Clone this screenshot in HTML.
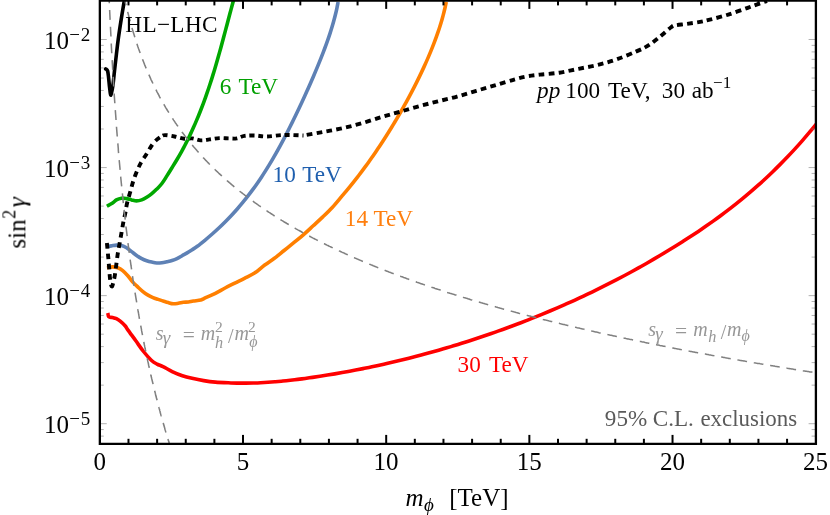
<!DOCTYPE html>
<html><head><meta charset="utf-8"><title>plot</title>
<style>
html,body{margin:0;padding:0;background:#fff;}
body{width:830px;height:515px;overflow:hidden;font-family:"Liberation Serif",serif;}
svg{display:block;position:absolute;left:0;top:0;}
svg text{font-family:"Liberation Serif",serif;}
.t{opacity:0.999;}
</style></head><body>
<svg width="830" height="515" viewBox="0 0 830 515">
<rect x="0" y="0" width="830" height="515" fill="#ffffff"/>
<defs><clipPath id="c"><rect x="99.75" y="0" width="715.85" height="443.70"/></clipPath></defs>

<g clip-path="url(#c)" fill="none" stroke-linejoin="round">
<path d="M107.80,313.00 C107.97,313.63 108.00,316.05 108.80,316.80 C109.60,317.55 111.33,317.18 112.60,317.50 C113.87,317.82 115.13,318.08 116.40,318.70 C117.67,319.32 118.72,319.98 120.20,321.20 C121.68,322.42 124.00,324.52 125.30,326.00 C126.60,327.48 126.25,327.63 128.00,330.10 C129.75,332.57 133.22,337.23 135.80,340.80 C138.38,344.37 140.92,348.27 143.50,351.50 C146.08,354.73 149.03,358.10 151.30,360.20 C153.57,362.30 155.15,363.03 157.10,364.10 C159.05,365.17 160.40,365.32 163.00,366.60 C165.60,367.88 169.47,370.28 172.70,371.80 C175.93,373.32 179.17,374.62 182.40,375.70 C185.63,376.78 188.55,377.48 192.10,378.30 C195.65,379.12 199.82,379.97 203.70,380.60 C207.58,381.23 210.87,381.71 215.40,382.10 C219.93,382.49 227.08,382.76 230.90,382.94 C234.72,383.11 235.85,383.10 238.32,383.14 C240.79,383.18 243.26,383.18 245.74,383.16 C248.21,383.15 250.68,383.10 253.16,383.03 C255.63,382.95 258.10,382.86 260.58,382.73 C263.05,382.61 265.52,382.47 267.99,382.30 C270.47,382.13 272.94,381.94 275.41,381.74 C277.89,381.53 280.36,381.30 282.83,381.05 C285.31,380.81 287.78,380.54 290.25,380.26 C292.72,379.98 295.20,379.69 297.67,379.38 C300.14,379.07 302.62,378.74 305.09,378.41 C307.56,378.07 310.04,377.72 312.51,377.36 C314.98,377.00 317.45,376.63 319.93,376.25 C322.40,375.88 324.87,375.49 327.35,375.09 C329.82,374.69 332.29,374.28 334.77,373.86 C337.24,373.44 339.71,373.01 342.18,372.57 C344.66,372.13 347.13,371.68 349.60,371.22 C352.08,370.76 354.55,370.29 357.02,369.81 C359.50,369.33 361.97,368.84 364.44,368.34 C366.91,367.84 369.39,367.33 371.86,366.81 C374.33,366.29 376.81,365.76 379.28,365.21 C381.75,364.67 384.23,364.12 386.70,363.56 C389.17,363.00 391.64,362.42 394.12,361.84 C396.59,361.26 399.06,360.66 401.54,360.06 C404.01,359.46 406.48,358.84 408.96,358.22 C411.43,357.59 413.90,356.96 416.37,356.31 C418.85,355.66 421.32,355.01 423.79,354.34 C426.27,353.68 428.74,353.00 431.21,352.31 C433.69,351.62 436.16,350.92 438.63,350.22 C441.10,349.51 443.58,348.79 446.05,348.06 C448.52,347.33 451.00,346.59 453.47,345.84 C455.94,345.09 458.42,344.32 460.89,343.55 C463.36,342.78 465.83,342.00 468.31,341.20 C470.78,340.41 473.25,339.61 475.73,338.79 C478.20,337.97 480.67,337.15 483.15,336.31 C485.62,335.48 488.09,334.63 490.56,333.77 C493.04,332.91 495.51,332.04 497.98,331.16 C500.46,330.28 502.93,329.39 505.40,328.49 C507.88,327.59 510.35,326.68 512.82,325.76 C515.29,324.83 517.77,323.90 520.24,322.95 C522.71,322.00 525.19,321.05 527.66,320.08 C530.13,319.11 532.61,318.12 535.08,317.13 C537.55,316.14 540.02,315.13 542.50,314.11 C544.97,313.09 547.44,312.06 549.92,311.02 C552.39,309.98 554.86,308.92 557.34,307.85 C559.81,306.79 562.28,305.71 564.75,304.61 C567.23,303.52 569.70,302.41 572.17,301.29 C574.65,300.17 577.12,299.04 579.59,297.89 C582.07,296.74 584.54,295.58 587.01,294.41 C589.48,293.23 591.96,292.04 594.43,290.84 C596.90,289.64 599.38,288.42 601.85,287.19 C604.32,285.96 606.80,284.72 609.27,283.46 C611.74,282.20 614.21,280.93 616.69,279.64 C619.16,278.35 621.63,277.04 624.11,275.73 C626.58,274.41 629.05,273.07 631.53,271.73 C634.00,270.38 636.47,269.01 638.94,267.63 C641.42,266.25 643.89,264.86 646.36,263.45 C648.84,262.04 651.31,260.61 653.78,259.17 C656.26,257.73 658.73,256.27 661.20,254.79 C663.67,253.32 666.15,251.83 668.62,250.32 C671.09,248.81 673.57,247.29 676.04,245.75 C678.51,244.21 680.99,242.65 683.46,241.08 C685.93,239.50 688.40,237.91 690.88,236.29 C693.35,234.67 695.82,233.04 698.30,231.38 C700.77,229.71 703.24,228.03 705.72,226.32 C708.19,224.61 710.66,222.87 713.13,221.11 C715.61,219.34 718.08,217.55 720.55,215.72 C723.03,213.89 725.50,212.04 727.97,210.15 C730.45,208.26 732.92,206.33 735.39,204.37 C737.86,202.41 740.34,200.42 742.81,198.38 C745.28,196.34 747.76,194.27 750.23,192.16 C752.70,190.04 755.18,187.89 757.65,185.68 C760.12,183.48 762.59,181.24 765.07,178.95 C767.54,176.66 770.01,174.33 772.49,171.94 C774.96,169.55 777.43,167.12 779.91,164.64 C782.38,162.15 784.85,159.62 787.32,157.03 C789.80,154.44 792.27,151.79 794.74,149.09 C797.22,146.39 799.69,143.64 802.16,140.82 C804.64,138.01 807.11,135.14 809.58,132.20 C812.05,129.27 815.76,124.71 817.00,123.21" stroke="#ff0000" stroke-width="3.6"/>
<path d="M106.90,267.60 C107.85,267.48 110.80,266.87 112.60,266.90 C114.40,266.93 116.02,267.17 117.70,267.80 C119.38,268.43 121.02,269.37 122.70,270.70 C124.38,272.03 126.12,273.90 127.80,275.80 C129.48,277.70 131.12,280.22 132.80,282.10 C134.48,283.98 136.22,285.52 137.90,287.10 C139.58,288.68 141.22,290.27 142.90,291.60 C144.58,292.93 146.32,294.10 148.00,295.10 C149.68,296.10 151.32,296.88 153.00,297.60 C154.68,298.32 156.42,298.83 158.10,299.40 C159.78,299.97 161.42,300.47 163.10,301.00 C164.78,301.53 166.52,302.13 168.20,302.60 C169.88,303.07 171.52,303.68 173.20,303.80 C174.88,303.92 176.62,303.55 178.30,303.30 C179.98,303.05 181.62,302.52 183.30,302.30 C184.98,302.08 186.72,302.22 188.40,302.00 C190.08,301.78 191.33,301.33 193.40,301.00 C195.47,300.67 198.75,300.55 200.80,300.00 C202.85,299.45 203.27,298.80 205.70,297.70 C208.13,296.60 212.17,295.02 215.40,293.40 C218.63,291.78 221.87,289.72 225.10,288.00 C228.33,286.28 231.57,284.72 234.80,283.10 C238.03,281.48 241.13,280.02 244.50,278.30 C247.87,276.58 251.63,275.02 255.00,272.80 C258.37,270.58 261.47,267.42 264.70,265.00 C267.93,262.58 271.17,260.72 274.40,258.30 C277.63,255.88 280.87,253.10 284.10,250.50 C287.33,247.90 290.55,245.35 293.80,242.70 C297.05,240.05 300.37,237.42 303.60,234.60 C306.83,231.78 310.00,228.75 313.20,225.80 C316.40,222.85 319.58,220.00 322.80,216.90 C326.02,213.80 329.38,210.58 332.50,207.20 C335.62,203.82 339.32,199.20 341.53,196.60 C343.75,194.00 344.39,193.27 345.78,191.61 C347.18,189.95 348.55,188.28 349.91,186.62 C351.27,184.96 352.60,183.29 353.92,181.63 C355.24,179.97 356.54,178.30 357.83,176.64 C359.11,174.98 360.38,173.31 361.63,171.65 C362.88,169.99 364.11,168.32 365.33,166.66 C366.54,165.00 367.75,163.34 368.93,161.67 C370.12,160.01 371.29,158.35 372.45,156.68 C373.61,155.02 374.76,153.36 375.89,151.69 C377.02,150.03 378.14,148.37 379.25,146.70 C380.36,145.04 381.45,143.38 382.53,141.71 C383.61,140.05 384.68,138.39 385.74,136.72 C386.80,135.06 387.85,133.40 388.88,131.73 C389.92,130.07 390.94,128.41 391.96,126.74 C392.97,125.08 393.97,123.42 394.97,121.75 C395.96,120.09 396.94,118.43 397.91,116.76 C398.89,115.10 399.85,113.44 400.80,111.77 C401.75,110.11 402.69,108.45 403.62,106.78 C404.55,105.12 405.48,103.46 406.39,101.79 C407.30,100.13 408.20,98.47 409.09,96.81 C409.98,95.14 410.86,93.48 411.73,91.82 C412.61,90.15 413.47,88.49 414.32,86.83 C415.17,85.16 416.01,83.50 416.84,81.84 C417.67,80.17 418.49,78.51 419.29,76.85 C420.10,75.18 420.90,73.52 421.68,71.86 C422.47,70.19 423.24,68.53 424.01,66.87 C424.77,65.20 425.52,63.54 426.26,61.88 C427.00,60.21 427.72,58.55 428.44,56.89 C429.15,55.22 429.85,53.56 430.54,51.90 C431.22,50.23 431.90,48.57 432.56,46.91 C433.22,45.24 433.86,43.58 434.49,41.92 C435.12,40.25 435.74,38.59 436.33,36.93 C436.93,35.26 437.52,33.60 438.08,31.94 C438.65,30.28 439.20,28.61 439.73,26.95 C440.26,25.29 440.78,23.62 441.27,21.96 C441.76,20.30 442.24,18.63 442.70,16.97 C443.15,15.31 443.59,13.64 444.01,11.98 C444.42,10.32 444.81,8.65 445.19,6.99 C445.56,5.33 446.06,2.83 446.23,2.00" stroke="#ff7f00" stroke-width="3.6"/>
<path d="M106.90,246.60 C107.65,246.48 109.82,246.15 111.40,245.90 C112.98,245.65 114.72,245.15 116.40,245.10 C118.08,245.05 119.82,245.15 121.50,245.60 C123.18,246.05 124.82,246.80 126.50,247.80 C128.18,248.80 129.92,250.33 131.60,251.60 C133.28,252.87 134.92,254.23 136.60,255.40 C138.28,256.57 140.02,257.72 141.70,258.60 C143.38,259.48 145.02,260.12 146.70,260.70 C148.38,261.28 150.12,261.72 151.80,262.10 C153.48,262.48 155.12,262.90 156.80,263.00 C158.48,263.10 160.22,262.92 161.90,262.70 C163.58,262.48 165.22,262.07 166.90,261.70 C168.58,261.33 170.32,261.02 172.00,260.50 C173.68,259.98 175.32,259.40 177.00,258.60 C178.68,257.80 180.42,256.65 182.10,255.70 C183.78,254.75 185.42,253.90 187.10,252.90 C188.78,251.90 190.50,250.80 192.20,249.70 C193.90,248.60 195.15,247.91 197.31,246.30 C199.47,244.69 202.63,242.12 205.17,240.04 C207.70,237.95 210.14,235.86 212.51,233.77 C214.88,231.68 217.16,229.60 219.38,227.51 C221.59,225.42 223.73,223.33 225.80,221.24 C227.87,219.16 229.88,217.07 231.82,214.98 C233.77,212.89 235.64,210.80 237.47,208.72 C239.30,206.63 241.07,204.54 242.79,202.45 C244.51,200.36 246.17,198.28 247.79,196.19 C249.42,194.10 250.99,192.01 252.53,189.92 C254.06,187.84 255.55,185.75 257.01,183.66 C258.47,181.57 259.88,179.48 261.27,177.39 C262.65,175.31 264.00,173.22 265.33,171.13 C266.65,169.04 267.94,166.95 269.21,164.87 C270.48,162.78 271.72,160.69 272.94,158.60 C274.15,156.51 275.35,154.43 276.52,152.34 C277.70,150.25 278.85,148.16 279.99,146.07 C281.13,143.99 282.24,141.90 283.35,139.81 C284.45,137.72 285.54,135.63 286.61,133.55 C287.69,131.46 288.74,129.37 289.79,127.28 C290.84,125.19 291.88,123.11 292.90,121.02 C293.93,118.93 294.94,116.84 295.95,114.75 C296.95,112.67 297.95,110.58 298.94,108.49 C299.92,106.40 300.90,104.31 301.87,102.23 C302.84,100.14 303.80,98.05 304.75,95.96 C305.70,93.87 306.65,91.79 307.58,89.70 C308.52,87.61 309.44,85.52 310.36,83.43 C311.28,81.35 312.19,79.26 313.08,77.17 C313.98,75.08 314.87,72.99 315.75,70.91 C316.63,68.82 317.50,66.73 318.35,64.64 C319.20,62.55 320.05,60.46 320.88,58.38 C321.71,56.29 322.52,54.20 323.32,52.11 C324.12,50.02 324.90,47.94 325.67,45.85 C326.43,43.76 327.18,41.67 327.91,39.58 C328.63,37.50 329.34,35.41 330.02,33.32 C330.71,31.23 331.37,29.14 332.00,27.06 C332.63,24.97 333.24,22.88 333.81,20.79 C334.39,18.70 334.94,16.62 335.45,14.53 C335.96,12.44 336.44,10.35 336.88,8.26 C337.32,6.18 337.89,3.04 338.09,2.00" stroke="#5e81b5" stroke-width="3.6"/>
<path d="M106.90,243.00 C107.12,245.28 107.83,252.63 108.20,256.70 C108.57,260.77 108.82,263.93 109.10,267.40 C109.38,270.87 109.58,274.65 109.90,277.50 C110.22,280.35 110.62,283.03 111.00,284.50 C111.38,285.97 111.77,286.88 112.20,286.30 C112.63,285.72 113.13,283.00 113.60,281.00 C114.07,279.00 114.32,278.78 115.00,274.30 C115.68,269.82 116.93,259.25 117.70,254.10 C118.47,248.95 118.97,246.97 119.60,243.40 C120.23,239.83 120.87,236.28 121.50,232.70 C122.13,229.12 122.77,225.17 123.40,221.90 C124.03,218.63 124.68,216.25 125.30,213.10 C125.92,209.95 126.27,206.57 127.10,203.00 C127.93,199.43 129.30,195.27 130.30,191.70 C131.30,188.13 132.05,184.87 133.10,181.60 C134.15,178.33 135.28,175.27 136.60,172.10 C137.92,168.93 139.32,165.65 141.00,162.60 C142.68,159.55 144.87,156.73 146.70,153.80 C148.53,150.87 150.27,147.40 152.00,145.00 C153.73,142.60 155.60,140.82 157.10,139.40 C158.60,137.98 160.35,136.98 161.00,136.50" stroke="#000" stroke-width="3.9" stroke-dasharray="5.7 4.7"/>
<path d="M161.00,136.50 C161.65,136.27 162.63,135.10 164.90,135.10 C167.17,135.10 171.37,135.88 174.60,136.50 C177.83,137.12 181.38,138.48 184.30,138.80 C187.22,139.12 189.35,138.13 192.10,138.40 C194.85,138.67 197.88,140.23 200.80,140.40 C203.72,140.57 206.52,139.78 209.60,139.40 C212.68,139.02 216.07,138.27 219.30,138.10 C222.53,137.93 226.10,138.35 229.00,138.40 C231.90,138.45 234.12,138.82 236.70,138.40 C239.28,137.98 241.45,136.38 244.50,135.90 C247.55,135.42 251.30,135.40 255.00,135.50 C258.70,135.60 261.85,136.58 266.70,136.50 C271.55,136.42 277.97,135.17 284.10,135.00 C290.23,134.83 300.27,135.42 303.50,135.50" stroke="#000" stroke-width="3.9" stroke-dasharray="5 3.8" stroke-dashoffset="-2"/>
<path d="M303.50,135.50 C306.75,134.92 316.52,133.22 323.00,132.00 C329.48,130.78 335.93,129.65 342.40,128.20 C348.87,126.75 355.22,125.18 361.80,123.30 C368.38,121.42 375.65,118.78 381.90,116.90 C388.15,115.02 393.18,113.77 399.30,112.00 C405.42,110.23 412.18,108.07 418.60,106.30 C425.02,104.53 431.38,103.02 437.80,101.40 C444.22,99.78 450.67,98.37 457.10,96.60 C463.53,94.83 469.97,92.72 476.40,90.80 C482.83,88.88 489.28,87.02 495.70,85.10 C502.12,83.18 509.77,80.75 514.90,79.30 C520.03,77.85 522.32,77.18 526.50,76.40 C530.68,75.62 534.53,75.22 540.00,74.60 C545.47,73.98 552.87,73.67 559.30,72.70 C565.73,71.73 572.18,70.10 578.60,68.80 C585.02,67.50 591.38,66.50 597.80,64.90 C604.22,63.30 610.67,61.45 617.10,59.20 C623.53,56.95 631.25,53.65 636.40,51.40 C641.55,49.15 644.15,48.10 648.00,45.70 C651.85,43.30 655.65,40.07 659.50,37.00 C663.35,33.93 668.52,29.23 671.10,27.30 C673.68,25.37 672.43,25.97 675.00,25.40 C677.57,24.83 682.33,24.48 686.50,23.90 C690.67,23.32 695.93,22.65 700.00,21.90 C704.07,21.15 706.18,20.62 710.90,19.40 C715.62,18.18 722.17,16.53 728.30,14.60 C734.43,12.67 742.20,9.75 747.70,7.80 C753.20,5.85 758.08,4.03 761.30,2.90 C764.52,1.77 766.05,1.32 767.00,1.00" stroke="#000" stroke-width="3.9" stroke-dasharray="5.7 4.3" stroke-dashoffset="6.7"/>
<path d="M106.90,206.20 C107.85,205.67 111.02,204.05 112.60,203.00 C114.18,201.95 114.92,200.70 116.40,199.90 C117.88,199.10 119.82,198.42 121.50,198.20 C123.18,197.98 124.82,198.32 126.50,198.60 C128.18,198.88 129.92,199.52 131.60,199.90 C133.28,200.28 134.92,200.90 136.60,200.90 C138.28,200.90 140.02,200.50 141.70,199.90 C143.38,199.30 145.02,198.35 146.70,197.30 C148.38,196.25 150.12,194.97 151.80,193.60 C153.48,192.23 155.12,190.78 156.80,189.10 C158.48,187.42 160.22,185.70 161.90,183.50 C163.58,181.30 165.22,178.53 166.90,175.90 C168.58,173.27 170.32,170.43 172.00,167.70 C173.68,164.97 175.38,162.23 177.00,159.50 C178.62,156.77 180.57,153.33 181.70,151.30 C182.84,149.27 183.12,148.66 183.82,147.34 C184.51,146.02 185.19,144.71 185.87,143.39 C186.54,142.07 187.20,140.75 187.85,139.43 C188.50,138.11 189.14,136.79 189.77,135.47 C190.40,134.16 191.02,132.84 191.63,131.52 C192.24,130.20 192.84,128.88 193.43,127.56 C194.02,126.24 194.61,124.92 195.18,123.61 C195.75,122.29 196.32,120.97 196.87,119.65 C197.43,118.33 197.98,117.01 198.52,115.69 C199.06,114.37 199.59,113.05 200.11,111.74 C200.63,110.42 201.15,109.10 201.66,107.78 C202.16,106.46 202.66,105.14 203.16,103.82 C203.65,102.50 204.13,101.19 204.61,99.87 C205.09,98.55 205.57,97.23 206.03,95.91 C206.50,94.59 206.96,93.27 207.41,91.95 C207.86,90.64 208.31,89.32 208.75,88.00 C209.19,86.68 209.63,85.36 210.06,84.04 C210.49,82.72 210.91,81.40 211.33,80.08 C211.75,78.77 212.17,77.45 212.58,76.13 C212.99,74.81 213.39,73.49 213.80,72.17 C214.20,70.85 214.59,69.53 214.99,68.22 C215.38,66.90 215.77,65.58 216.15,64.26 C216.54,62.94 216.92,61.62 217.30,60.30 C217.68,58.98 218.05,57.66 218.43,56.35 C218.80,55.03 219.17,53.71 219.53,52.39 C219.90,51.07 220.27,49.75 220.63,48.43 C220.99,47.11 221.35,45.80 221.71,44.48 C222.07,43.16 222.42,41.84 222.78,40.52 C223.13,39.20 223.49,37.88 223.84,36.56 C224.19,35.25 224.54,33.93 224.89,32.61 C225.24,31.29 225.59,29.97 225.94,28.65 C226.29,27.33 226.64,26.01 226.99,24.69 C227.34,23.38 227.68,22.06 228.03,20.74 C228.38,19.42 228.73,18.10 229.08,16.78 C229.43,15.46 229.78,14.14 230.13,12.83 C230.48,11.51 230.84,10.19 231.19,8.87 C231.54,7.55 231.90,6.23 232.26,4.91 C232.61,3.59 232.97,2.28 233.33,0.96 C233.69,-0.36 234.24,-2.34 234.42,-3.00" stroke="#00a800" stroke-width="3.6"/>
<path d="M105.70,68.90 C106.02,69.23 107.12,69.43 107.60,70.90 C108.08,72.37 108.27,74.95 108.60,77.70 C108.93,80.45 109.22,84.50 109.60,87.40 C109.98,90.30 110.35,95.43 110.90,95.10 C111.45,94.77 112.32,89.28 112.90,85.40 C113.48,81.52 113.82,76.97 114.40,71.80 C114.98,66.63 115.75,59.90 116.40,54.40 C117.05,48.90 117.50,44.63 118.30,38.80 C119.10,32.97 120.23,25.55 121.20,19.40 C122.17,13.25 123.62,4.82 124.10,1.90" stroke="#000" stroke-width="3.6" stroke-linecap="round"/>
<path d="M123.9,-4.3 L124.8,-0.3 L125.6,3.5 L126.5,7.2 L127.4,10.7 L128.3,14.2 L129.1,17.5 L130.0,20.8 L130.9,24.0 L131.7,27.0 L132.6,30.0 L133.5,32.9 L134.4,35.8 L135.2,38.5 L136.1,41.2 L137.0,43.9 L137.8,46.4 L138.7,49.0 L139.6,51.4 L140.5,53.8 L141.3,56.2 L142.2,58.5 L143.1,60.8 L144.0,63.0 L144.8,65.1 L145.7,67.3 L146.6,69.4 L147.4,71.4 L148.3,73.4 L149.2,75.4 L150.1,77.4 L150.9,79.3 L151.8,81.2 L152.7,83.0 L153.5,84.8 L154.4,86.6 L155.3,88.4 L156.2,90.1 L157.0,91.8 L157.9,93.5 L158.8,95.1 L159.6,96.8 L160.5,98.4 L161.4,100.0 L162.3,101.5 L163.1,103.1 L164.0,104.6 L164.9,106.1 L165.7,107.6 L166.6,109.0 L167.5,110.5 L168.4,111.9 L169.2,113.3 L170.1,114.7 L171.0,116.0 L171.8,117.4 L172.7,118.7 L173.6,120.1 L174.5,121.4 L175.3,122.7 L176.2,123.9 L177.1,125.2 L178.0,126.4 L178.8,127.7 L179.7,128.9 L180.6,130.1 L181.4,131.3 L182.3,132.5 L183.2,133.6 L184.1,134.8 L184.9,135.9 L185.8,137.1 L186.7,138.2 L187.5,139.3 L188.4,140.4 L189.3,141.5 L190.2,142.6 L191.0,143.6 L191.9,144.7 L192.8,145.7 L193.6,146.8 L194.5,147.8 L195.4,148.8 L196.3,149.8 L197.1,150.8 L198.0,151.8 L198.9,152.8 L199.7,153.8 L200.6,154.8 L201.5,155.7 L202.4,156.7 L203.2,157.6 L204.1,158.5 L205.0,159.5 L205.8,160.4 L206.7,161.3 L207.6,162.2 L208.5,163.1 L209.3,164.0 L210.2,164.9 L211.1,165.7 L212.0,166.6 L212.8,167.5 L213.7,168.3 L214.6,169.2 L215.4,170.0 L216.3,170.8 L217.2,171.7 L218.1,172.5 L218.9,173.3 L219.8,174.1 L220.7,174.9 L221.5,175.7 L222.4,176.5 L223.3,177.3 L224.2,178.1 L225.0,178.9 L225.9,179.6 L226.8,180.4 L227.6,181.2 L228.5,181.9 L229.4,182.7 L230.3,183.4 L231.1,184.1 L232.0,184.9 L232.9,185.6 L233.7,186.3 L234.6,187.1 L235.5,187.8 L236.4,188.5 L237.2,189.2 L238.1,189.9 L239.0,190.6 L239.8,191.3 L240.7,192.0 L241.6,192.7 L242.5,193.4 L243.3,194.0 L244.2,194.7 L245.1,195.4 L246.0,196.0 L246.8,196.7 L247.7,197.4 L248.6,198.0 L249.4,198.7 L250.3,199.3 L251.2,199.9 L252.1,200.6 L252.9,201.2 L253.8,201.9 L254.7,202.5 L255.5,203.1 L256.4,203.7 L257.3,204.3 L258.2,205.0 L259.0,205.6 L259.9,206.2 L260.8,206.8 L261.6,207.4 L262.5,208.0 L263.4,208.6 L264.3,209.2 L265.1,209.7 L266.0,210.3 L266.9,210.9 L267.7,211.5 L268.6,212.1 L269.5,212.6 L270.4,213.2 L271.2,213.8 L272.1,214.3 L273.0,214.9 L273.8,215.5 L274.7,216.0 L275.6,216.6 L276.5,217.1 L277.3,217.7 L278.2,218.2 L279.1,218.8 L280.0,219.3 L280.8,219.8 L281.7,220.4 L282.6,220.9 L283.4,221.4 L284.3,222.0 L285.2,222.5 L286.1,223.0 L286.9,223.5 L287.8,224.0 L288.7,224.6 L289.5,225.1 L290.4,225.6 L291.3,226.1 L292.2,226.6 L293.0,227.1 L293.9,227.6 L294.8,228.1 L295.6,228.6 L296.5,229.1 L297.4,229.6 L298.3,230.1 L299.1,230.5 L300.0,231.0 L300.9,231.5 L301.7,232.0 L302.6,232.5 L303.5,233.0 L304.4,233.4 L305.2,233.9 L306.1,234.4 L307.0,234.8 L307.8,235.3 L308.7,235.8 L309.6,236.2 L310.5,236.7 L311.3,237.2 L312.2,237.6 L313.1,238.1 L313.9,238.5 L314.8,239.0 L315.7,239.4 L316.6,239.9 L317.4,240.3 L318.3,240.8 L319.2,241.2 L320.1,241.6 L320.9,242.1 L321.8,242.5 L322.7,243.0 L323.5,243.4 L324.4,243.8 L325.3,244.3 L326.2,244.7 L327.0,245.1 L327.9,245.5 L328.8,246.0 L329.6,246.4 L330.5,246.8 L331.4,247.2 L332.3,247.6 L333.1,248.1 L334.0,248.5 L334.9,248.9 L335.7,249.3 L336.6,249.7 L337.5,250.1 L338.4,250.5 L339.2,250.9 L340.1,251.3 L341.0,251.7 L341.8,252.1 L342.7,252.5 L343.6,252.9 L344.5,253.3 L345.3,253.7 L346.2,254.1 L347.1,254.5 L347.9,254.9 L348.8,255.3 L349.7,255.7 L350.6,256.1 L351.4,256.5 L352.3,256.8 L353.2,257.2 L354.1,257.6 L354.9,258.0 L355.8,258.4 L356.7,258.8 L357.5,259.1 L358.4,259.5 L359.3,259.9 L360.2,260.3 L361.0,260.6 L361.9,261.0 L362.8,261.4 L363.6,261.7 L364.5,262.1 L365.4,262.5 L366.3,262.8 L367.1,263.2 L368.0,263.6 L368.9,263.9 L369.7,264.3 L370.6,264.6 L371.5,265.0 L372.4,265.3 L373.2,265.7 L374.1,266.1 L375.0,266.4 L375.8,266.8 L376.7,267.1 L377.6,267.5 L378.5,267.8 L379.3,268.2 L380.2,268.5 L381.1,268.8 L381.9,269.2 L382.8,269.5 L383.7,269.9 L384.6,270.2 L385.4,270.6 L386.3,270.9 L387.2,271.2 L388.1,271.6 L388.9,271.9 L389.8,272.2 L390.7,272.6 L391.5,272.9 L392.4,273.2 L393.3,273.6 L394.2,273.9 L395.0,274.2 L395.9,274.6 L396.8,274.9 L397.6,275.2 L398.5,275.5 L399.4,275.9 L400.3,276.2 L401.1,276.5 L402.0,276.8 L402.9,277.1 L403.7,277.5 L404.6,277.8 L405.5,278.1 L406.4,278.4 L407.2,278.7 L408.1,279.0 L409.0,279.4 L409.8,279.7 L410.7,280.0 L411.6,280.3 L412.5,280.6 L413.3,280.9 L414.2,281.2 L415.1,281.5 L415.9,281.8 L416.8,282.2 L417.7,282.5 L418.6,282.8 L419.4,283.1 L420.3,283.4 L421.2,283.7 L422.1,284.0 L422.9,284.3 L423.8,284.6 L424.7,284.9 L425.5,285.2 L426.4,285.5 L427.3,285.8 L428.2,286.1 L429.0,286.4 L429.9,286.6 L430.8,286.9 L431.6,287.2 L432.5,287.5 L433.4,287.8 L434.3,288.1 L435.1,288.4 L436.0,288.7 L436.9,289.0 L437.7,289.3 L438.6,289.5 L439.5,289.8 L440.4,290.1 L441.2,290.4 L442.1,290.7 L443.0,291.0 L443.8,291.3 L444.7,291.5 L445.6,291.8 L446.5,292.1 L447.3,292.4 L448.2,292.7 L449.1,292.9 L449.9,293.2 L450.8,293.5 L451.7,293.8 L452.6,294.0 L453.4,294.3 L454.3,294.6 L455.2,294.9 L456.1,295.1 L456.9,295.4 L457.8,295.7 L458.7,295.9 L459.5,296.2 L460.4,296.5 L461.3,296.7 L462.2,297.0 L463.0,297.3 L463.9,297.6 L464.8,297.8 L465.6,298.1 L466.5,298.3 L467.4,298.6 L468.3,298.9 L469.1,299.1 L470.0,299.4 L470.9,299.7 L471.7,299.9 L472.6,300.2 L473.5,300.4 L474.4,300.7 L475.2,301.0 L476.1,301.2 L477.0,301.5 L477.8,301.7 L478.7,302.0 L479.6,302.2 L480.5,302.5 L481.3,302.8 L482.2,303.0 L483.1,303.3 L483.9,303.5 L484.8,303.8 L485.7,304.0 L486.6,304.3 L487.4,304.5 L488.3,304.8 L489.2,305.0 L490.0,305.3 L490.9,305.5 L491.8,305.8 L492.7,306.0 L493.5,306.3 L494.4,306.5 L495.3,306.7 L496.2,307.0 L497.0,307.2 L497.9,307.5 L498.8,307.7 L499.6,308.0 L500.5,308.2 L501.4,308.4 L502.3,308.7 L503.1,308.9 L504.0,309.2 L504.9,309.4 L505.7,309.7 L506.6,309.9 L507.5,310.1 L508.4,310.4 L509.2,310.6 L510.1,310.8 L511.0,311.1 L511.8,311.3 L512.7,311.5 L513.6,311.8 L514.5,312.0 L515.3,312.2 L516.2,312.5 L517.1,312.7 L517.9,312.9 L518.8,313.2 L519.7,313.4 L520.6,313.6 L521.4,313.9 L522.3,314.1 L523.2,314.3 L524.0,314.6 L524.9,314.8 L525.8,315.0 L526.7,315.2 L527.5,315.5 L528.4,315.7 L529.3,315.9 L530.2,316.1 L531.0,316.4 L531.9,316.6 L532.8,316.8 L533.6,317.0 L534.5,317.3 L535.4,317.5 L536.3,317.7 L537.1,317.9 L538.0,318.2 L538.9,318.4 L539.7,318.6 L540.6,318.8 L541.5,319.0 L542.4,319.3 L543.2,319.5 L544.1,319.7 L545.0,319.9 L545.8,320.1 L546.7,320.3 L547.6,320.6 L548.5,320.8 L549.3,321.0 L550.2,321.2 L551.1,321.4 L551.9,321.6 L552.8,321.9 L553.7,322.1 L554.6,322.3 L555.4,322.5 L556.3,322.7 L557.2,322.9 L558.0,323.1 L558.9,323.3 L559.8,323.6 L560.7,323.8 L561.5,324.0 L562.4,324.2 L563.3,324.4 L564.2,324.6 L565.0,324.8 L565.9,325.0 L566.8,325.2 L567.6,325.4 L568.5,325.6 L569.4,325.8 L570.3,326.1 L571.1,326.3 L572.0,326.5 L572.9,326.7 L573.7,326.9 L574.6,327.1 L575.5,327.3 L576.4,327.5 L577.2,327.7 L578.1,327.9 L579.0,328.1 L579.8,328.3 L580.7,328.5 L581.6,328.7 L582.5,328.9 L583.3,329.1 L584.2,329.3 L585.1,329.5 L585.9,329.7 L586.8,329.9 L587.7,330.1 L588.6,330.3 L589.4,330.5 L590.3,330.7 L591.2,330.9 L592.0,331.1 L592.9,331.3 L593.8,331.5 L594.7,331.7 L595.5,331.9 L596.4,332.1 L597.3,332.3 L598.2,332.5 L599.0,332.7 L599.9,332.9 L600.8,333.0 L601.6,333.2 L602.5,333.4 L603.4,333.6 L604.3,333.8 L605.1,334.0 L606.0,334.2 L606.9,334.4 L607.7,334.6 L608.6,334.8 L609.5,335.0 L610.4,335.2 L611.2,335.3 L612.1,335.5 L613.0,335.7 L613.8,335.9 L614.7,336.1 L615.6,336.3 L616.5,336.5 L617.3,336.7 L618.2,336.8 L619.1,337.0 L619.9,337.2 L620.8,337.4 L621.7,337.6 L622.6,337.8 L623.4,338.0 L624.3,338.2 L625.2,338.3 L626.0,338.5 L626.9,338.7 L627.8,338.9 L628.7,339.1 L629.5,339.3 L630.4,339.4 L631.3,339.6 L632.2,339.8 L633.0,340.0 L633.9,340.2 L634.8,340.3 L635.6,340.5 L636.5,340.7 L637.4,340.9 L638.3,341.1 L639.1,341.3 L640.0,341.4 L640.9,341.6 L641.7,341.8 L642.6,342.0 L643.5,342.1 L644.4,342.3 L645.2,342.5 L646.1,342.7 L647.0,342.9 L647.8,343.0 L648.7,343.2 L649.6,343.4 L650.5,343.6 L651.3,343.7 L652.2,343.9 L653.1,344.1 L653.9,344.3 L654.8,344.4 L655.7,344.6 L656.6,344.8 L657.4,345.0 L658.3,345.1 L659.2,345.3 L660.0,345.5 L660.9,345.7 L661.8,345.8 L662.7,346.0 L663.5,346.2 L664.4,346.3 L665.3,346.5 L666.1,346.7 L667.0,346.9 L667.9,347.0 L668.8,347.2 L669.6,347.4 L670.5,347.5 L671.4,347.7 L672.3,347.9 L673.1,348.0 L674.0,348.2 L674.9,348.4 L675.7,348.6 L676.6,348.7 L677.5,348.9 L678.4,349.1 L679.2,349.2 L680.1,349.4 L681.0,349.6 L681.8,349.7 L682.7,349.9 L683.6,350.1 L684.5,350.2 L685.3,350.4 L686.2,350.6 L687.1,350.7 L687.9,350.9 L688.8,351.1 L689.7,351.2 L690.6,351.4 L691.4,351.5 L692.3,351.7 L693.2,351.9 L694.0,352.0 L694.9,352.2 L695.8,352.4 L696.7,352.5 L697.5,352.7 L698.4,352.8 L699.3,353.0 L700.1,353.2 L701.0,353.3 L701.9,353.5 L702.8,353.7 L703.6,353.8 L704.5,354.0 L705.4,354.1 L706.3,354.3 L707.1,354.5 L708.0,354.6 L708.9,354.8 L709.7,354.9 L710.6,355.1 L711.5,355.3 L712.4,355.4 L713.2,355.6 L714.1,355.7 L715.0,355.9 L715.8,356.0 L716.7,356.2 L717.6,356.4 L718.5,356.5 L719.3,356.7 L720.2,356.8 L721.1,357.0 L721.9,357.1 L722.8,357.3 L723.7,357.5 L724.6,357.6 L725.4,357.8 L726.3,357.9 L727.2,358.1 L728.0,358.2 L728.9,358.4 L729.8,358.5 L730.7,358.7 L731.5,358.8 L732.4,359.0 L733.3,359.1 L734.1,359.3 L735.0,359.5 L735.9,359.6 L736.8,359.8 L737.6,359.9 L738.5,360.1 L739.4,360.2 L740.3,360.4 L741.1,360.5 L742.0,360.7 L742.9,360.8 L743.7,361.0 L744.6,361.1 L745.5,361.3 L746.4,361.4 L747.2,361.6 L748.1,361.7 L749.0,361.9 L749.8,362.0 L750.7,362.2 L751.6,362.3 L752.5,362.5 L753.3,362.6 L754.2,362.8 L755.1,362.9 L755.9,363.1 L756.8,363.2 L757.7,363.4 L758.6,363.5 L759.4,363.6 L760.3,363.8 L761.2,363.9 L762.0,364.1 L762.9,364.2 L763.8,364.4 L764.7,364.5 L765.5,364.7 L766.4,364.8 L767.3,365.0 L768.1,365.1 L769.0,365.3 L769.9,365.4 L770.8,365.5 L771.6,365.7 L772.5,365.8 L773.4,366.0 L774.3,366.1 L775.1,366.3 L776.0,366.4 L776.9,366.5 L777.7,366.7 L778.6,366.8 L779.5,367.0 L780.4,367.1 L781.2,367.3 L782.1,367.4 L783.0,367.5 L783.8,367.7 L784.7,367.8 L785.6,368.0 L786.5,368.1 L787.3,368.3 L788.2,368.4 L789.1,368.5 L789.9,368.7 L790.8,368.8 L791.7,369.0 L792.6,369.1 L793.4,369.2 L794.3,369.4 L795.2,369.5 L796.0,369.7 L796.9,369.8 L797.8,369.9 L798.7,370.1 L799.5,370.2 L800.4,370.4 L801.3,370.5 L802.1,370.6 L803.0,370.8 L803.9,370.9 L804.8,371.0 L805.6,371.2 L806.5,371.3 L807.4,371.5 L808.3,371.6 L809.1,371.7 L810.0,371.9 L810.9,372.0 L811.7,372.1 L812.6,372.3 L813.5,372.4 L814.4,372.5 L815.2,372.7 L816.1,372.8 L817.0,372.9 L817.8,373.1 L818.7,373.2 L819.6,373.4 L820.5,373.5 L821.3,373.6" stroke="#808080" stroke-width="1.55" stroke-dasharray="9.75 6.84"/>
<path d="M109.0,-6.6 L109.0,-4.3 L109.1,-2.0 L109.2,0.3 L109.3,2.5 L109.4,4.7 L109.5,6.9 L109.6,9.1 L109.7,11.2 L109.8,13.4 L109.9,15.5 L110.0,17.6 L110.1,19.6 L110.2,21.7 L110.3,23.7 L110.4,25.7 L110.5,27.7 L110.6,29.7 L110.7,31.7 L110.8,33.6 L110.9,35.5 L111.0,37.5 L111.1,39.4 L111.2,41.2 L111.3,43.1 L111.3,44.9 L111.4,46.8 L111.5,48.6 L111.6,50.4 L111.7,52.2 L111.8,53.9 L111.9,55.7 L112.0,57.5 L112.1,59.2 L112.2,60.9 L112.3,62.6 L112.4,64.3 L112.5,66.0 L112.6,67.6 L112.7,69.3 L112.8,70.9 L112.9,72.6 L113.0,74.2 L113.1,75.8 L113.2,77.4 L113.3,79.0 L113.4,80.5 L113.5,82.1 L113.6,83.7 L113.6,85.2 L113.7,86.7 L113.8,88.2 L113.9,89.8 L114.0,91.3 L114.1,92.7 L114.2,94.2 L114.3,95.7 L114.4,97.1 L114.5,98.6 L114.6,100.0 L114.7,101.5 L114.8,102.9 L114.9,104.3 L115.0,105.7 L115.1,107.1 L115.2,108.5 L115.3,109.9 L115.4,111.2 L115.5,112.6 L115.6,114.0 L115.7,115.3 L115.8,116.6 L115.9,118.0 L116.0,119.3 L116.0,120.6 L116.1,121.9 L116.2,123.2 L116.3,124.5 L116.4,125.8 L116.5,127.0 L116.6,128.3 L116.7,129.6 L116.8,130.8 L116.9,132.1 L117.0,133.3 L117.1,134.5 L117.2,135.8 L117.3,137.0 L117.4,138.2 L117.5,139.4 L117.6,140.6 L117.7,141.8 L117.8,143.0 L117.9,144.2 L118.0,145.3 L118.1,146.5 L118.2,147.7 L118.3,148.8 L118.3,150.0 L118.4,151.1 L118.5,152.3 L118.6,153.4 L118.7,154.5 L118.8,155.6 L118.9,156.8 L119.0,157.9 L119.1,159.0 L119.2,160.1 L119.3,161.2 L119.4,162.2 L119.5,163.3 L119.6,164.4 L119.7,165.5 L119.8,166.5 L119.9,167.6 L120.0,168.7 L120.1,169.7 L120.2,170.8 L120.3,171.8 L120.4,172.8 L120.5,173.9 L120.6,174.9 L120.6,175.9 L120.7,176.9 L120.8,178.0 L120.9,179.0 L121.0,180.0 L121.1,181.0 L121.2,182.0 L121.3,183.0 L121.4,183.9 L121.5,184.9 L121.6,185.9 L121.7,186.9 L121.8,187.9 L121.9,188.8 L122.0,189.8 L122.1,190.7 L122.2,191.7 L122.3,192.6 L122.4,193.6 L122.5,194.5 L122.6,195.5 L122.7,196.4 L122.8,197.3 L122.9,198.2 L122.9,199.2 L123.0,200.1 L123.1,201.0 L123.2,201.9 L123.3,202.8 L123.4,203.7 L123.5,204.6 L123.6,205.5 L123.7,206.4 L123.8,207.3 L123.9,208.2 L124.0,209.1 L124.1,209.9 L124.2,210.8 L124.3,211.7 L124.4,212.5 L124.5,213.4 L124.6,214.3 L124.7,215.1 L124.8,216.0 L124.9,216.8 L125.0,217.7 L125.1,218.5 L125.2,219.4 L125.3,220.2 L125.3,221.0 L125.4,221.9 L125.5,222.7 L125.6,223.5 L125.7,224.3 L125.8,225.2 L125.9,226.0 L126.0,226.8 L126.1,227.6 L126.2,228.4 L126.3,229.2 L126.4,230.0 L126.5,230.8 L126.6,231.6 L126.7,232.4 L126.8,233.2 L126.9,234.0 L127.0,234.8 L127.1,235.6 L127.2,236.3 L127.3,237.1 L127.4,237.9 L127.5,238.7 L127.6,239.4 L127.6,240.2 L127.7,241.0 L127.8,241.7 L127.9,242.5 L128.0,243.2 L128.1,244.0 L128.2,244.7 L128.3,245.5 L128.4,246.2 L128.5,247.0 L128.6,247.7 L128.7,248.4 L128.8,249.2 L128.9,249.9 L129.0,250.6 L129.1,251.4 L129.2,252.1 L129.3,252.8 L129.4,253.5 L129.5,254.3 L129.6,255.0 L129.7,255.7 L129.8,256.4 L129.9,257.1 L129.9,257.8 L130.0,258.5 L130.1,259.2 L130.2,259.9 L130.3,260.6 L130.4,261.3 L130.5,262.0 L130.6,262.7 L130.7,263.4 L130.8,264.1 L130.9,264.8 L131.0,265.5 L131.1,266.1 L131.2,266.8 L131.3,267.5 L131.4,268.2 L131.5,268.8 L131.6,269.5 L131.7,270.2 L131.8,270.9 L131.9,271.5 L132.0,272.2 L132.1,272.8 L132.2,273.5 L132.2,274.2 L132.3,274.8 L132.4,275.5 L132.5,276.1 L132.6,276.8 L132.7,277.4 L132.8,278.1 L132.9,278.7 L133.0,279.4 L133.1,280.0 L133.2,280.6 L133.3,281.3 L133.4,281.9 L133.5,282.5 L133.6,283.2 L133.7,283.8 L133.8,284.4 L133.9,285.0 L134.0,285.7 L134.1,286.3 L134.2,286.9 L134.3,287.5 L134.4,288.2 L134.5,288.8 L134.6,289.4 L134.6,290.0 L134.7,290.6 L134.8,291.2 L134.9,291.8 L135.0,292.4 L135.1,293.0 L135.2,293.6 L135.3,294.2 L135.4,294.8 L135.5,295.4 L135.6,296.0 L135.7,296.6 L135.8,297.2 L135.9,297.8 L136.0,298.4 L136.1,299.0 L136.2,299.6 L136.3,300.1 L136.4,300.7 L136.5,301.3 L136.6,301.9 L136.7,302.5 L136.8,303.0 L136.9,303.6 L136.9,304.2 L137.0,304.8 L137.1,305.3 L137.2,305.9 L137.3,306.5 L137.4,307.0 L137.5,307.6 L137.6,308.2 L137.7,308.7 L137.8,309.3 L137.9,309.9 L138.0,310.4 L138.1,311.0 L138.2,311.5 L138.3,312.1 L138.4,312.6 L138.5,313.2 L138.6,313.7 L138.7,314.3 L138.8,314.8 L138.9,315.4 L139.0,315.9 L139.1,316.5 L139.2,317.0 L139.2,317.6 L139.3,318.1 L139.4,318.6 L139.5,319.2 L139.6,319.7 L139.7,320.2 L139.8,320.8 L139.9,321.3 L140.0,321.8 L140.1,322.4 L140.2,322.9 L140.3,323.4 L140.4,323.9 L140.5,324.5 L140.6,325.0 L140.7,325.5 L140.8,326.0 L140.9,326.5 L141.0,327.1 L141.1,327.6 L141.2,328.1 L141.3,328.6 L141.4,329.1 L141.5,329.6 L141.5,330.1 L141.6,330.7 L141.7,331.2 L141.8,331.7 L141.9,332.2 L142.0,332.7 L142.1,333.2 L142.2,333.7 L142.3,334.2 L142.4,334.7 L142.5,335.2 L142.6,335.7 L142.7,336.2 L142.8,336.7 L142.9,337.2 L143.0,337.7 L143.1,338.2 L143.2,338.7 L143.3,339.1 L143.4,339.6 L143.5,340.1 L143.6,340.6 L143.7,341.1 L143.8,341.6 L143.9,342.1 L143.9,342.6 L144.0,343.0 L144.1,343.5 L144.2,344.0 L144.3,344.5 L144.4,345.0 L144.5,345.4 L144.6,345.9 L144.7,346.4 L144.8,346.9 L144.9,347.3 L145.0,347.8 L145.1,348.3 L145.2,348.7 L145.3,349.2 L145.4,349.7 L145.5,350.1 L145.6,350.6 L145.7,351.1 L145.8,351.5 L145.9,352.0 L146.0,352.5 L146.1,352.9 L146.2,353.4 L146.2,353.8 L146.3,354.3 L146.4,354.8 L146.5,355.2 L146.6,355.7 L146.7,356.1 L146.8,356.6 L146.9,357.0 L147.0,357.5 L147.1,357.9 L147.2,358.4 L147.3,358.8 L147.4,359.3 L147.5,359.7 L147.6,360.2 L147.7,360.6 L147.8,361.1 L147.9,361.5 L148.0,362.0 L148.1,362.4 L148.2,362.8 L148.3,363.3 L148.4,363.7 L148.5,364.2 L148.5,364.6 L148.6,365.0 L148.7,365.5 L148.8,365.9 L148.9,366.3 L149.0,366.8 L149.1,367.2 L149.2,367.6 L149.3,368.1 L149.4,368.5 L149.5,368.9 L149.6,369.3 L149.7,369.8 L149.8,370.2 L149.9,370.6 L150.0,371.1 L150.1,371.5 L150.2,371.9 L150.3,372.3 L150.4,372.7 L150.5,373.2 L150.6,373.6 L150.7,374.0 L150.8,374.4 L150.8,374.8 L150.9,375.3 L151.0,375.7 L151.1,376.1 L151.2,376.5 L151.3,376.9 L151.4,377.3 L151.5,377.7 L151.6,378.2 L151.7,378.6 L151.8,379.0 L151.9,379.4 L152.0,379.8 L152.1,380.2 L152.2,380.6 L152.3,381.0 L152.4,381.4 L152.5,381.8 L152.6,382.2 L152.7,382.6 L152.8,383.0 L152.9,383.4 L153.0,383.8 L153.1,384.2 L153.2,384.6 L153.2,385.0 L153.3,385.4 L153.4,385.8 L153.5,386.2 L153.6,386.6 L153.7,387.0 L153.8,387.4 L153.9,387.8 L154.0,388.2 L154.1,388.6 L154.2,389.0 L154.3,389.4 L154.4,389.8 L154.5,390.2 L154.6,390.6 L154.7,390.9 L154.8,391.3 L154.9,391.7 L155.0,392.1 L155.1,392.5 L155.2,392.9 L155.3,393.3 L155.4,393.6 L155.5,394.0 L155.5,394.4 L155.6,394.8 L155.7,395.2 L155.8,395.6 L155.9,395.9 L156.0,396.3 L156.1,396.7 L156.2,397.1 L156.3,397.4 L156.4,397.8 L156.5,398.2 L156.6,398.6 L156.7,398.9 L156.8,399.3 L156.9,399.7 L157.0,400.1 L157.1,400.4 L157.2,400.8 L157.3,401.2 L157.4,401.6 L157.5,401.9 L157.6,402.3 L157.7,402.7 L157.8,403.0 L157.8,403.4 L157.9,403.8 L158.0,404.1 L158.1,404.5 L158.2,404.9 L158.3,405.2 L158.4,405.6 L158.5,406.0 L158.6,406.3 L158.7,406.7 L158.8,407.0 L158.9,407.4 L159.0,407.8 L159.1,408.1 L159.2,408.5 L159.3,408.8 L159.4,409.2 L159.5,409.6 L159.6,409.9 L159.7,410.3 L159.8,410.6 L159.9,411.0 L160.0,411.3 L160.1,411.7 L160.1,412.0 L160.2,412.4 L160.3,412.7 L160.4,413.1 L160.5,413.4 L160.6,413.8 L160.7,414.1 L160.8,414.5 L160.9,414.8 L161.0,415.2 L161.1,415.5 L161.2,415.9 L161.3,416.2 L161.4,416.6 L161.5,416.9 L161.6,417.3 L161.7,417.6 L161.8,418.0 L161.9,418.3 L162.0,418.7 L162.1,419.0 L162.2,419.3 L162.3,419.7 L162.4,420.0 L162.5,420.4 L162.5,420.7 L162.6,421.0 L162.7,421.4 L162.8,421.7 L162.9,422.1 L163.0,422.4 L163.1,422.7 L163.2,423.1 L163.3,423.4 L163.4,423.7 L163.5,424.1 L163.6,424.4 L163.7,424.7 L163.8,425.1 L163.9,425.4 L164.0,425.7 L164.1,426.1 L164.2,426.4 L164.3,426.7 L164.4,427.1 L164.5,427.4 L164.6,427.7 L164.7,428.0 L164.8,428.4 L164.8,428.7 L164.9,429.0 L165.0,429.4 L165.1,429.7 L165.2,430.0 L165.3,430.3 L165.4,430.7 L165.5,431.0 L165.6,431.3 L165.7,431.6 L165.8,432.0 L165.9,432.3 L166.0,432.6 L166.1,432.9 L166.2,433.2 L166.3,433.6 L166.4,433.9 L166.5,434.2 L166.6,434.5 L166.7,434.8 L166.8,435.2 L166.9,435.5 L167.0,435.8 L167.1,436.1 L167.1,436.4 L167.2,436.7 L167.3,437.1 L167.4,437.4 L167.5,437.7 L167.6,438.0 L167.7,438.3 L167.8,438.6 L167.9,439.0 L168.0,439.3 L168.1,439.6 L168.2,439.9 L168.3,440.2 L168.4,440.5 L168.5,440.8 L168.6,441.1 L168.7,441.4 L168.8,441.7 L168.9,442.1 L169.0,442.4 L169.1,442.7 L169.2,443.0 L169.3,443.3 L169.4,443.6 L169.4,443.9 L169.5,444.2 L169.6,444.5 L169.7,444.8 L169.8,445.1 L169.9,445.4 L170.0,445.7 L170.1,446.0 L170.2,446.3 L170.3,446.6 L170.4,446.9 L170.5,447.2 L170.6,447.5 L170.7,447.8 L170.8,448.1 L170.9,448.4" stroke="#808080" stroke-width="1.55" stroke-dasharray="9.8 6.9"/>
</g>
<g stroke="#000" stroke-width="2">
<line x1="128.48" y1="443.70" x2="128.48" y2="438.80"/>
<line x1="128.48" y1="0.00" x2="128.48" y2="5.40"/>
<line x1="157.12" y1="443.70" x2="157.12" y2="438.80"/>
<line x1="157.12" y1="0.00" x2="157.12" y2="5.40"/>
<line x1="185.75" y1="443.70" x2="185.75" y2="438.80"/>
<line x1="185.75" y1="0.00" x2="185.75" y2="5.40"/>
<line x1="214.39" y1="443.70" x2="214.39" y2="438.80"/>
<line x1="214.39" y1="0.00" x2="214.39" y2="5.40"/>
<line x1="243.02" y1="443.70" x2="243.02" y2="434.90"/>
<line x1="243.02" y1="0.00" x2="243.02" y2="8.90"/>
<line x1="271.65" y1="443.70" x2="271.65" y2="438.80"/>
<line x1="271.65" y1="0.00" x2="271.65" y2="5.40"/>
<line x1="300.29" y1="443.70" x2="300.29" y2="438.80"/>
<line x1="300.29" y1="0.00" x2="300.29" y2="5.40"/>
<line x1="328.92" y1="443.70" x2="328.92" y2="438.80"/>
<line x1="328.92" y1="0.00" x2="328.92" y2="5.40"/>
<line x1="357.56" y1="443.70" x2="357.56" y2="438.80"/>
<line x1="357.56" y1="0.00" x2="357.56" y2="5.40"/>
<line x1="386.19" y1="443.70" x2="386.19" y2="434.90"/>
<line x1="386.19" y1="0.00" x2="386.19" y2="8.90"/>
<line x1="414.82" y1="443.70" x2="414.82" y2="438.80"/>
<line x1="414.82" y1="0.00" x2="414.82" y2="5.40"/>
<line x1="443.46" y1="443.70" x2="443.46" y2="438.80"/>
<line x1="443.46" y1="0.00" x2="443.46" y2="5.40"/>
<line x1="472.09" y1="443.70" x2="472.09" y2="438.80"/>
<line x1="472.09" y1="0.00" x2="472.09" y2="5.40"/>
<line x1="500.73" y1="443.70" x2="500.73" y2="438.80"/>
<line x1="500.73" y1="0.00" x2="500.73" y2="5.40"/>
<line x1="529.36" y1="443.70" x2="529.36" y2="434.90"/>
<line x1="529.36" y1="0.00" x2="529.36" y2="8.90"/>
<line x1="557.99" y1="443.70" x2="557.99" y2="438.80"/>
<line x1="557.99" y1="0.00" x2="557.99" y2="5.40"/>
<line x1="586.63" y1="443.70" x2="586.63" y2="438.80"/>
<line x1="586.63" y1="0.00" x2="586.63" y2="5.40"/>
<line x1="615.26" y1="443.70" x2="615.26" y2="438.80"/>
<line x1="615.26" y1="0.00" x2="615.26" y2="5.40"/>
<line x1="643.90" y1="443.70" x2="643.90" y2="438.80"/>
<line x1="643.90" y1="0.00" x2="643.90" y2="5.40"/>
<line x1="672.53" y1="443.70" x2="672.53" y2="434.90"/>
<line x1="672.53" y1="0.00" x2="672.53" y2="8.90"/>
<line x1="701.16" y1="443.70" x2="701.16" y2="438.80"/>
<line x1="701.16" y1="0.00" x2="701.16" y2="5.40"/>
<line x1="729.80" y1="443.70" x2="729.80" y2="438.80"/>
<line x1="729.80" y1="0.00" x2="729.80" y2="5.40"/>
<line x1="758.43" y1="443.70" x2="758.43" y2="438.80"/>
<line x1="758.43" y1="0.00" x2="758.43" y2="5.40"/>
<line x1="787.07" y1="443.70" x2="787.07" y2="438.80"/>
<line x1="787.07" y1="0.00" x2="787.07" y2="5.40"/>
</g>
<g stroke="#808080" stroke-width="0.6">
<line x1="99.75" y1="436.11" x2="103.75" y2="436.11"/>
<line x1="815.60" y1="436.11" x2="811.60" y2="436.11"/>
<line x1="99.75" y1="429.56" x2="103.75" y2="429.56"/>
<line x1="815.60" y1="429.56" x2="811.60" y2="429.56"/>
<line x1="99.75" y1="423.70" x2="106.75" y2="423.70"/>
<line x1="815.60" y1="423.70" x2="808.60" y2="423.70"/>
<line x1="99.75" y1="385.15" x2="103.75" y2="385.15"/>
<line x1="815.60" y1="385.15" x2="811.60" y2="385.15"/>
<line x1="99.75" y1="362.60" x2="103.75" y2="362.60"/>
<line x1="815.60" y1="362.60" x2="811.60" y2="362.60"/>
<line x1="99.75" y1="346.60" x2="103.75" y2="346.60"/>
<line x1="815.60" y1="346.60" x2="811.60" y2="346.60"/>
<line x1="99.75" y1="334.19" x2="103.75" y2="334.19"/>
<line x1="815.60" y1="334.19" x2="811.60" y2="334.19"/>
<line x1="99.75" y1="324.04" x2="103.75" y2="324.04"/>
<line x1="815.60" y1="324.04" x2="811.60" y2="324.04"/>
<line x1="99.75" y1="315.47" x2="103.75" y2="315.47"/>
<line x1="815.60" y1="315.47" x2="811.60" y2="315.47"/>
<line x1="99.75" y1="308.04" x2="103.75" y2="308.04"/>
<line x1="815.60" y1="308.04" x2="811.60" y2="308.04"/>
<line x1="99.75" y1="301.49" x2="103.75" y2="301.49"/>
<line x1="815.60" y1="301.49" x2="811.60" y2="301.49"/>
<line x1="99.75" y1="295.63" x2="106.75" y2="295.63"/>
<line x1="815.60" y1="295.63" x2="808.60" y2="295.63"/>
<line x1="99.75" y1="257.08" x2="103.75" y2="257.08"/>
<line x1="815.60" y1="257.08" x2="811.60" y2="257.08"/>
<line x1="99.75" y1="234.53" x2="103.75" y2="234.53"/>
<line x1="815.60" y1="234.53" x2="811.60" y2="234.53"/>
<line x1="99.75" y1="218.53" x2="103.75" y2="218.53"/>
<line x1="815.60" y1="218.53" x2="811.60" y2="218.53"/>
<line x1="99.75" y1="206.12" x2="103.75" y2="206.12"/>
<line x1="815.60" y1="206.12" x2="811.60" y2="206.12"/>
<line x1="99.75" y1="195.98" x2="103.75" y2="195.98"/>
<line x1="815.60" y1="195.98" x2="811.60" y2="195.98"/>
<line x1="99.75" y1="187.40" x2="103.75" y2="187.40"/>
<line x1="815.60" y1="187.40" x2="811.60" y2="187.40"/>
<line x1="99.75" y1="179.98" x2="103.75" y2="179.98"/>
<line x1="815.60" y1="179.98" x2="811.60" y2="179.98"/>
<line x1="99.75" y1="173.43" x2="103.75" y2="173.43"/>
<line x1="815.60" y1="173.43" x2="811.60" y2="173.43"/>
<line x1="99.75" y1="167.57" x2="106.75" y2="167.57"/>
<line x1="815.60" y1="167.57" x2="808.60" y2="167.57"/>
<line x1="99.75" y1="129.01" x2="103.75" y2="129.01"/>
<line x1="815.60" y1="129.01" x2="811.60" y2="129.01"/>
<line x1="99.75" y1="106.46" x2="103.75" y2="106.46"/>
<line x1="815.60" y1="106.46" x2="811.60" y2="106.46"/>
<line x1="99.75" y1="90.46" x2="103.75" y2="90.46"/>
<line x1="815.60" y1="90.46" x2="811.60" y2="90.46"/>
<line x1="99.75" y1="78.05" x2="103.75" y2="78.05"/>
<line x1="815.60" y1="78.05" x2="811.60" y2="78.05"/>
<line x1="99.75" y1="67.91" x2="103.75" y2="67.91"/>
<line x1="815.60" y1="67.91" x2="811.60" y2="67.91"/>
<line x1="99.75" y1="59.34" x2="103.75" y2="59.34"/>
<line x1="815.60" y1="59.34" x2="811.60" y2="59.34"/>
<line x1="99.75" y1="51.91" x2="103.75" y2="51.91"/>
<line x1="815.60" y1="51.91" x2="811.60" y2="51.91"/>
<line x1="99.75" y1="45.36" x2="103.75" y2="45.36"/>
<line x1="815.60" y1="45.36" x2="811.60" y2="45.36"/>
<line x1="99.75" y1="39.50" x2="106.75" y2="39.50"/>
<line x1="815.60" y1="39.50" x2="808.60" y2="39.50"/>
</g>
<path d="M99.85,-5 L99.85,443.80 L815.90,443.80 L815.90,-5" stroke="#000" stroke-width="2.3" fill="none" stroke-linejoin="miter"/>
<line x1="99.75" y1="0.3" x2="815.60" y2="0.3" stroke="#000" stroke-width="2.9"/>
<g class="t">
<text x="99.75" y="469.6" font-size="25" text-anchor="middle">0</text>
<text x="242.92" y="469.6" font-size="25" text-anchor="middle">5</text>
<text x="386.09" y="469.6" font-size="25" text-anchor="middle">10</text>
<text x="529.26" y="469.6" font-size="25" text-anchor="middle">15</text>
<text x="672.43" y="469.6" font-size="25" text-anchor="middle">20</text>
<text x="815.60" y="469.6" font-size="25" text-anchor="middle">25</text>
<text x="44" y="48.90" font-size="25">10<tspan font-size="19" dy="-8.4" dx="0.3">−</tspan><tspan font-size="19" dx="0.8">2</tspan></text>
<text x="44" y="176.97" font-size="25">10<tspan font-size="19" dy="-8.4" dx="0.3">−</tspan><tspan font-size="19" dx="0.8">3</tspan></text>
<text x="44" y="305.03" font-size="25">10<tspan font-size="19" dy="-8.4" dx="0.3">−</tspan><tspan font-size="19" dx="0.8">4</tspan></text>
<text x="44" y="433.10" font-size="25">10<tspan font-size="19" dy="-8.4" dx="0.3">−</tspan><tspan font-size="19" dx="0.8">5</tspan></text>
<text x="405.5" y="506.3" font-size="25" font-style="italic">m<tspan font-size="19" dy="4.5" dx="0.5">ϕ</tspan></text>
<text x="449.2" y="506.3" font-size="25">[TeV]</text>
<text transform="translate(25.4,248.6) rotate(-90)" font-size="25">sin<tspan font-size="18" dy="-10" dx="0.5">2</tspan><tspan dy="10" dx="2.5" font-style="italic" font-size="26">γ</tspan></text>
<text x="125.33" y="31.60" font-size="23.2" letter-spacing="0.35">HL−LHC</text>
<text x="219.80" y="93.70" font-size="23.2" fill="#00a000">6</text>
<text x="238.48" y="93.70" font-size="23.2" fill="#00a000">TeV</text>
<text x="272.56" y="181.50" font-size="23.2" fill="#1f5fae">10</text>
<text x="302.18" y="181.50" font-size="23.2" fill="#1f5fae">TeV</text>
<text x="344.86" y="225.80" font-size="23.2" fill="#ff7f0e">14</text>
<text x="373.48" y="225.80" font-size="23.2" fill="#ff7f0e">TeV</text>
<text x="457.59" y="372.30" font-size="23.2" fill="#ff0000">30</text>
<text x="488.88" y="372.30" font-size="23.2" fill="#ff0000">TeV</text>
<text x="537.06" y="97.50" font-size="23.2" font-style="italic">pp</text>
<text x="565.36" y="97.50" font-size="23.2">100</text>
<text x="608.08" y="97.50" font-size="23.2">TeV,</text>
<text x="661.79" y="97.50" font-size="23.2">30</text>
<text x="691.78" y="97.50" font-size="23.2">ab</text>
<text x="713.05" y="88.30" font-size="17">−1</text>
<text x="604.86" y="426.40" font-size="23.1" fill="#5a5a5a">95%</text>
<text x="652.75" y="426.40" font-size="23.1" fill="#5a5a5a">C.L.</text>
<text x="700.41" y="426.40" font-size="22.9" fill="#5a5a5a">exclusions</text>
<text x="155.86" y="340.20" font-size="20" font-style="italic" fill="#979797">s</text>
<text x="162.86" y="344.40" font-size="19" font-style="italic" fill="#979797">γ</text>
<text x="182.83" y="342.00" font-size="21.5" fill="#979797">=</text>
<text x="200.68" y="340.20" font-size="20" font-style="italic" fill="#979797">m</text>
<text x="214.92" y="332.20" font-size="15.5" fill="#979797">2</text>
<text x="214.91" y="348.40" font-size="16.3" font-style="italic" fill="#979797">h</text>
<text x="228.00" y="343.20" font-size="20" fill="#979797">/</text>
<text x="234.48" y="340.20" font-size="20" font-style="italic" fill="#979797">m</text>
<text x="248.12" y="332.20" font-size="15.5" fill="#979797">2</text>
<text x="249.23" y="346.70" font-size="16" font-style="italic" fill="#979797">ϕ</text>
<text x="648.36" y="335.90" font-size="20" font-style="italic" fill="#979797">s</text>
<text x="655.36" y="340.10" font-size="19" font-style="italic" fill="#979797">γ</text>
<text x="674.93" y="338.10" font-size="21.5" fill="#979797">=</text>
<text x="693.28" y="335.90" font-size="20" font-style="italic" fill="#979797">m</text>
<text x="708.31" y="342.10" font-size="16.3" font-style="italic" fill="#979797">h</text>
<text x="720.70" y="338.90" font-size="20" fill="#979797">/</text>
<text x="726.98" y="335.90" font-size="20" font-style="italic" fill="#979797">m</text>
<text x="741.43" y="340.50" font-size="16" font-style="italic" fill="#979797">ϕ</text>
</g>
</svg></body></html>
